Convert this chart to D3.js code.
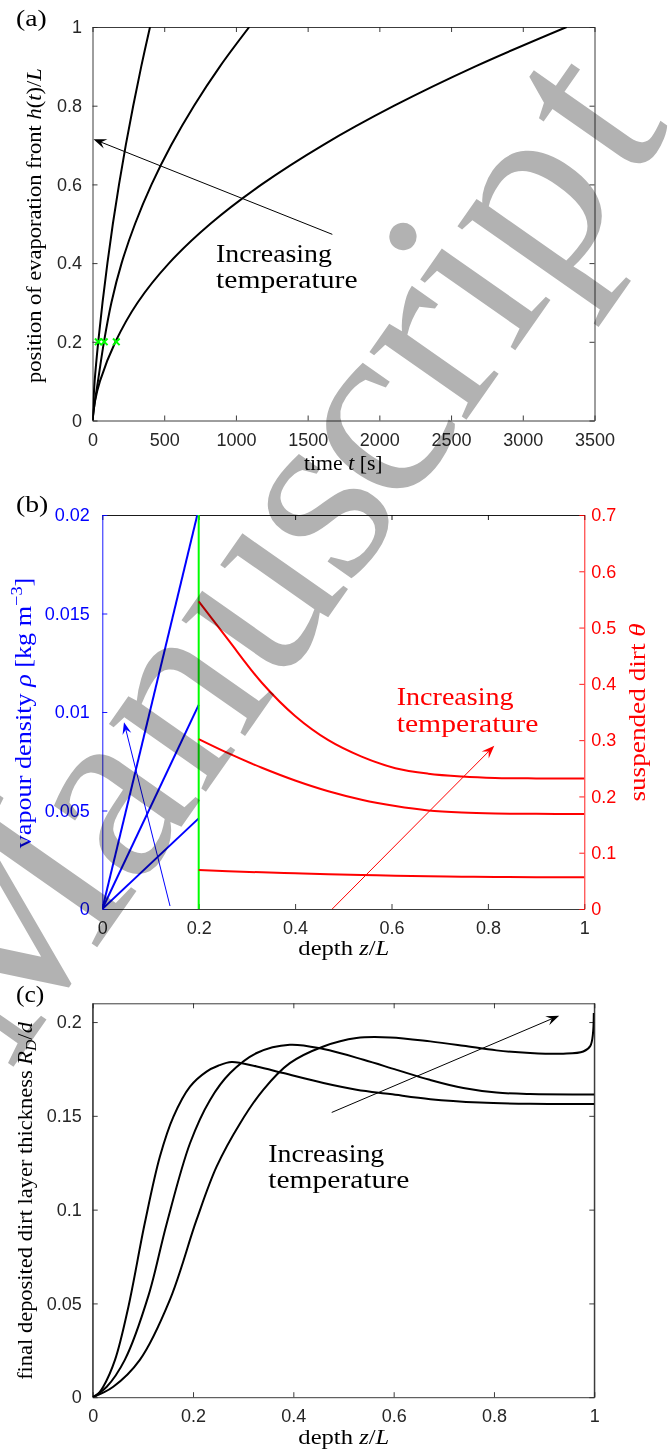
<!DOCTYPE html>
<html><head><meta charset="utf-8">
<script src="https://cdn.jsdelivr.net/npm/d3@7"></script>
<style>body{margin:0;background:#fff}svg{display:block}</style>
</head><body>
<svg id="chart" width="668" height="1452"></svg>
<script>
// ---------------- data ----------------
// panel (a): evaporation front position vs time, sampled at fixed front positions
const frontLevels = [0, 0.05, 0.1, 0.2, 0.3, 0.4, 0.5, 0.6, 0.7, 0.8, 0.9, 1.0];
const timeCurve1 = [0, 7, 15, 40, 70, 104, 142, 185, 232, 284, 340, 401];
const timeCurve2 = [0, 17, 38, 80, 132, 203, 297, 412, 549, 708, 889, 1093];
const timeCurve3 = [0, 18, 52, 160, 315, 534, 822, 1180, 1607, 2104, 2670, 3306];
const markerTimes = [40, 82, 166];
const markerFront = 0.2;
const timeTicks = [0, 500, 1000, 1500, 2000, 2500, 3000, 3500];
const frontTicks = [0, 0.2, 0.4, 0.6, 0.8, 1];
const arrowA = [[1672, 0.473], [7, 0.715]];

// panel (b): vapour density (left axis) and suspended dirt (right axis)
const zBlue = [0, 0.2];
const rhoLine1 = [0, 0.0203];
const rhoLine2 = [0, 0.01036];
const rhoLine3 = [0, 0.0046];
const frontDepth = 0.2;
const zRed = [0.2, 0.261, 0.331, 0.4, 0.469, 0.538, 0.608, 0.676, 0.746, 0.815, 0.9, 1.0];
const theta1 = [0.5466, 0.4785, 0.402, 0.343, 0.300, 0.2708, 0.2502, 0.2405, 0.2355, 0.2329, 0.232, 0.2317];
const theta2 = [0.3018, 0.2768, 0.2509, 0.2283, 0.2092, 0.1942, 0.1830, 0.1752, 0.1714, 0.1697, 0.1691, 0.1689];
const theta3 = [0.0692, 0.067, 0.0651, 0.0633, 0.0616, 0.0603, 0.0591, 0.0582, 0.0573, 0.0568, 0.0565, 0.0562];
const depthTicks = [0, 0.2, 0.4, 0.6, 0.8, 1];
const rhoTicks = [0, 0.005, 0.01, 0.015, 0.02];
const thetaTicks = [0, 0.1, 0.2, 0.3, 0.4, 0.5, 0.6, 0.7];
const arrowBblue = [[0.1405, 0.00015], [0.045, 0.00948]];
const arrowBred = [[0.477, 0], [0.8133, 0.29]];

// panel (c): final deposited dirt layer thickness
const zC1 = [0, 0.008, 0.021, 0.0445, 0.071, 0.104, 0.134, 0.161, 0.194, 0.227, 0.25, 0.277, 0.327, 0.38, 0.46, 0.526, 0.593, 0.673, 0.772, 0.872, 1.0];
const rC1 = [0, 0.001, 0.0056, 0.0199, 0.048, 0.093, 0.1283, 0.1496, 0.1656, 0.1736, 0.1767, 0.1787, 0.1763, 0.1728, 0.1675, 0.1639, 0.1616, 0.1589, 0.1571, 0.1564, 0.1563];
const zC2 = [0, 0.028, 0.064, 0.111, 0.1475, 0.194, 0.234, 0.274, 0.327, 0.393, 0.46, 0.54, 0.606, 0.672, 0.739, 0.805, 0.872, 1.0];
const rC2 = [0, 0.0056, 0.0199, 0.054, 0.0925, 0.1354, 0.1585, 0.1728, 0.1835, 0.1879, 0.1856, 0.1799, 0.1745, 0.1692, 0.1648, 0.1624, 0.1616, 0.1614];
const zC3 = [0, 0.041, 0.094, 0.154, 0.207, 0.247, 0.294, 0.34, 0.393, 0.46, 0.526, 0.593, 0.673, 0.739, 0.805, 0.872, 0.938, 0.978, 0.992, 0.999];
const rC3 = [0, 0.0056, 0.0199, 0.052, 0.0945, 0.1229, 0.1461, 0.1639, 0.1781, 0.187, 0.1915, 0.1918, 0.1897, 0.1874, 0.1849, 0.1835, 0.1831, 0.1843, 0.1872, 0.2048];
const thickTicks = [0, 0.05, 0.1, 0.15, 0.2];
const arrowC = [[0.4765, 0.1518], [0.930, 0.2034]];

// watermark
const wmLetters = ["M", "a", "n", "u", "s", "c", "r", "i", "p", "t"];
const wmAdvance = [0.917, 0.5, 0.556, 0.556, 0.394, 0.444, 0.392, 0.278, 0.556, 0.389];

// ---------------- helpers ----------------
const svg = d3.select("#chart");
svg.append("rect").attr("width", 668).attr("height", 1452).attr("fill", "#fff");
const SERIF = "'Liberation Serif','Times New Roman',serif";
const SANS = "'Liberation Sans',Arial,Helvetica,sans-serif";
const AX = "#262626";

function label(g, o) {
  const t = g.append("text").attr("font-family", SERIF).attr("font-size", o.size)
    .attr("fill", o.fill || "#000").attr("text-anchor", o.anchor || "middle");
  let shift = 0;
  o.parts.forEach(p => {
    const ts = t.append("tspan").text(p.t);
    if (p.it) ts.attr("font-style", "italic");
    const target = p.sub ? 0.22 * o.size : p.sup ? -0.38 * o.size : 0;
    if (target !== shift) { ts.attr("dy", target - shift); shift = target; }
    if (p.sub || p.sup) ts.attr("font-size", o.size * 0.7);
  });
  const w = t.node().getComputedTextLength();
  const s = o.width ? o.width / w : 1;
  t.attr("transform", `translate(${o.x},${o.y}) rotate(${o.rot || 0}) scale(${s},1)`);
  return t;
}

function styleAxis(g, color, showText) {
  g.attr("font-family", SANS).attr("font-size", 18);
  g.select(".domain").attr("stroke", color).attr("stroke-width", 0.9);
  g.selectAll(".tick line").attr("stroke", color).attr("stroke-width", 0.9);
  g.selectAll(".tick text").attr("fill", color);
  if (!showText) g.selectAll(".tick text").remove();
}

function arrow(g, p1, p2, color, len, wid) {
  const [x1, y1] = p1, [x2, y2] = p2;
  const ang = Math.atan2(y2 - y1, x2 - x1);
  const ex = x2 - Math.cos(ang) * len * 0.6, ey = y2 - Math.sin(ang) * len * 0.6;
  g.append("line").attr("x1", x1).attr("y1", y1).attr("x2", ex).attr("y2", ey)
    .attr("stroke", color).attr("stroke-width", 1);
  g.append("path").attr("d", `M0,0L${-len},${wid / 2}L${-0.62 * len},0L${-len},${-wid / 2}Z`)
    .attr("transform", `translate(${x2},${y2}) rotate(${ang * 180 / Math.PI})`)
    .attr("fill", color);
}

function clip(id, x0, y0, x1, y1) {
  svg.append("clipPath").attr("id", id).append("rect")
    .attr("x", x0).attr("y", y0).attr("width", x1 - x0).attr("height", y1 - y0);
}

const fmt = d => String(d);
const smooth = d3.curveCatmullRom.alpha(0.5);

// ---------------- panel (a) ----------------
{
  const x = d3.scaleLinear().domain([0, 3500]).range([92.5, 594.5]);
  const y = d3.scaleLinear().domain([0, 1]).range([420.5, 27]);
  const g = svg.append("g");
  clip("clipA", 92.5, 27, 594.5, 420.5);
  styleAxis(g.append("g").attr("transform", "translate(0,420.5)")
    .call(d3.axisBottom(x).tickValues(timeTicks).tickSizeInner(-5).tickSizeOuter(0).tickPadding(13).tickFormat(d3.format("d"))), AX, true);
  styleAxis(g.append("g").attr("transform", "translate(0,27)")
    .call(d3.axisTop(x).tickValues(timeTicks).tickSizeInner(-5).tickSizeOuter(0)), AX, false);
  styleAxis(g.append("g").attr("transform", "translate(92.5,0)")
    .call(d3.axisLeft(y).tickValues(frontTicks).tickSizeInner(-5).tickSizeOuter(0).tickPadding(10.5).tickFormat(fmt)), AX, true);
  styleAxis(g.append("g").attr("transform", "translate(594.5,0)")
    .call(d3.axisRight(y).tickValues(frontTicks).tickSizeInner(-5).tickSizeOuter(0)), AX, false);

  const line = d3.line().x(d => x(d[0])).y(d => y(d[1])).curve(smooth);
  const lines = g.append("g").attr("clip-path", "url(#clipA)");
  [timeCurve1, timeCurve2, timeCurve3].forEach(tc => {
    lines.append("path").datum(tc.map((t, i) => [t, frontLevels[i]]))
      .attr("d", line).attr("fill", "none").attr("stroke", "#000").attr("stroke-width", 2);
  });
  markerTimes.forEach(t => {
    const cx = x(t), cy = y(markerFront), r = 3.3;
    g.append("path").attr("d", `M${cx - r},${cy - r}L${cx + r},${cy + r}M${cx - r},${cy + r}L${cx + r},${cy - r}`)
      .attr("stroke", "#00ff00").attr("stroke-width", 2);
  });
  arrow(g, [x(arrowA[0][0]), y(arrowA[0][1])], [x(arrowA[1][0]), y(arrowA[1][1])], "#000", 13, 10);
  label(g, { x: 216, y: 262.3, anchor: "start", size: 25.5, width: 116, parts: [{ t: "Increasing" }] });
  label(g, { x: 216, y: 288.3, anchor: "start", size: 25.5, width: 141.7, parts: [{ t: "temperature" }] });
  label(g, { x: 343.3, y: 470, size: 20, width: 78.7, parts: [{ t: "time " }, { t: "t", it: 1 }, { t: " [s]" }] });
  label(g, { x: 41, y: 225.7, rot: -90, size: 20, width: 315,
    parts: [{ t: "position of evaporation front " }, { t: "h", it: 1 }, { t: "(" }, { t: "t", it: 1 }, { t: ")/" }, { t: "L", it: 1 }] });
  label(g, { x: 16, y: 26, anchor: "start", size: 24, width: 30.7, parts: [{ t: "(a)" }] });
}

// ---------------- panel (b) ----------------
{
  const x = d3.scaleLinear().domain([0, 1]).range([102.3, 584.3]);
  const yL = d3.scaleLinear().domain([0, 0.02]).range([909, 515]);
  const yR = d3.scaleLinear().domain([0, 0.7]).range([909, 515]);
  const g = svg.append("g");
  clip("clipB", 102.3, 515, 584.3, 909);
  styleAxis(g.append("g").attr("transform", "translate(0,909)")
    .call(d3.axisBottom(x).tickValues(depthTicks).tickSizeInner(-5).tickSizeOuter(0).tickPadding(12.5).tickFormat(fmt)), AX, true);
  styleAxis(g.append("g").attr("transform", "translate(0,515)")
    .call(d3.axisTop(x).tickValues(depthTicks).tickSizeInner(-5).tickSizeOuter(0)), "#000", false);
  styleAxis(g.append("g").attr("transform", "translate(102.3,0)")
    .call(d3.axisLeft(yL).tickValues(rhoTicks).tickSizeInner(-5).tickSizeOuter(0).tickPadding(12.5).tickFormat(fmt)), "#0000ff", true);
  styleAxis(g.append("g").attr("transform", "translate(584.3,0)")
    .call(d3.axisRight(yR).tickValues(thetaTicks).tickSizeInner(-5).tickSizeOuter(0).tickPadding(7).tickFormat(fmt)), "#ff0000", true);

  const lines = g.append("g").attr("clip-path", "url(#clipB)");
  const lineL = d3.line().x(d => x(d[0])).y(d => yL(d[1]));
  [rhoLine1, rhoLine2, rhoLine3].forEach(r => {
    lines.append("path").datum(zBlue.map((z, i) => [z, r[i]]))
      .attr("d", lineL).attr("fill", "none").attr("stroke", "#0000ff").attr("stroke-width", 2);
  });
  lines.append("path").datum([[frontDepth, 0], [frontDepth, 0.02]])
    .attr("d", lineL).attr("fill", "none").attr("stroke", "#00ff00").attr("stroke-width", 2);
  const lineR = d3.line().x(d => x(d[0])).y(d => yR(d[1])).curve(smooth);
  [theta1, theta2, theta3].forEach(th => {
    lines.append("path").datum(zRed.map((z, i) => [z, th[i]]))
      .attr("d", lineR).attr("fill", "none").attr("stroke", "#ff0000").attr("stroke-width", 2);
  });
  arrow(g, [x(arrowBblue[0][0]), yL(arrowBblue[0][1])], [x(arrowBblue[1][0]), yL(arrowBblue[1][1])], "#0000ff", 12, 9);
  arrow(g, [x(arrowBred[0][0]), yR(arrowBred[0][1])], [x(arrowBred[1][0]), yR(arrowBred[1][1])], "#ff0000", 13, 10);
  label(g, { x: 396.7, y: 705, anchor: "start", size: 25.5, width: 117, fill: "#ff0000", parts: [{ t: "Increasing" }] });
  label(g, { x: 396.7, y: 731.5, anchor: "start", size: 25.5, width: 141.7, fill: "#ff0000", parts: [{ t: "temperature" }] });
  label(g, { x: 343.8, y: 955, size: 20, width: 91, parts: [{ t: "depth " }, { t: "z", it: 1 }, { t: "/" }, { t: "L", it: 1 }] });
  label(g, { x: 31, y: 713, rot: -90, size: 24, width: 270.6, fill: "#0000ff",
    parts: [{ t: "vapour density " }, { t: "ρ", it: 1 }, { t: " [kg m" }, { t: "−3", sup: 1 }, { t: "]" }] });
  label(g, { x: 645, y: 712.5, rot: -90, size: 24, width: 178.4, fill: "#ff0000",
    parts: [{ t: "suspended dirt " }, { t: "θ", it: 1 }] });
  label(g, { x: 16, y: 512, anchor: "start", size: 24, width: 32.3, parts: [{ t: "(b)" }] });
}

// ---------------- panel (c) ----------------
{
  const x = d3.scaleLinear().domain([0, 1]).range([92.7, 594.3]);
  const y = d3.scaleLinear().domain([0, 0.21]).range([1397.2, 1003.3]);
  const g = svg.append("g");
  clip("clipC", 92.7, 1003.3, 594.3, 1397.2);
  styleAxis(g.append("g").attr("transform", "translate(0,1397.2)")
    .call(d3.axisBottom(x).tickValues(depthTicks).tickSizeInner(-5).tickSizeOuter(0).tickPadding(12.5).tickFormat(fmt)), AX, true);
  styleAxis(g.append("g").attr("transform", "translate(0,1003.3)")
    .call(d3.axisTop(x).tickValues(depthTicks).tickSizeInner(-5).tickSizeOuter(0)), AX, false);
  styleAxis(g.append("g").attr("transform", "translate(92.7,0)")
    .call(d3.axisLeft(y).tickValues(thickTicks).tickSizeInner(-5).tickSizeOuter(0).tickPadding(11).tickFormat(fmt)), AX, true);
  styleAxis(g.append("g").attr("transform", "translate(594.3,0)")
    .call(d3.axisRight(y).tickValues(thickTicks).tickSizeInner(-5).tickSizeOuter(0)), AX, false);
  g.append("line").attr("x1", 92.7).attr("x2", 92.7).attr("y1", 1003.3).attr("y2", 1397.2).attr("stroke", AX).attr("stroke-width", 0.9);
  g.append("line").attr("x1", 594.3).attr("x2", 594.3).attr("y1", 1003.3).attr("y2", 1397.2).attr("stroke", AX).attr("stroke-width", 0.9);

  const lines = g.append("g").attr("clip-path", "url(#clipC)");
  const line = d3.line().x(d => x(d[0])).y(d => y(d[1])).curve(smooth);
  [[zC1, rC1], [zC2, rC2], [zC3, rC3]].forEach(([zs, rs]) => {
    lines.append("path").datum(zs.map((z, i) => [z, rs[i]]))
      .attr("d", line).attr("fill", "none").attr("stroke", "#000").attr("stroke-width", 2);
  });
  arrow(g, [x(arrowC[0][0]), y(arrowC[0][1])], [x(arrowC[1][0]), y(arrowC[1][1])], "#000", 13, 10);
  label(g, { x: 268.3, y: 1162.3, anchor: "start", size: 25.5, width: 116, parts: [{ t: "Increasing" }] });
  label(g, { x: 268.3, y: 1187.5, anchor: "start", size: 25.5, width: 141, parts: [{ t: "temperature" }] });
  label(g, { x: 343.8, y: 1444, size: 20, width: 91, parts: [{ t: "depth " }, { t: "z", it: 1 }, { t: "/" }, { t: "L", it: 1 }] });
  label(g, { x: 32, y: 1201, rot: -90, size: 20, width: 358,
    parts: [{ t: "final deposited dirt layer thickness " }, { t: "R", it: 1 }, { t: "D", it: 1, sub: 1 }, { t: "/" }, { t: "d", it: 1 }] });
  label(g, { x: 16, y: 1001.5, anchor: "start", size: 24, width: 28.3, parts: [{ t: "(c)" }] });
}

// ---------------- watermark ----------------
{
  const G = 258, A = 232, angle = -55;
  const wm = svg.append("g").attr("transform", `translate(14,1066) rotate(${angle})`)
    .style("mix-blend-mode", "multiply");
  let pos = 0;
  wmLetters.forEach((ch, i) => {
    wm.append("text").attr("x", (pos + wmAdvance[i] / 2) * A).attr("y", 0)
      .attr("text-anchor", "middle").attr("font-family", SERIF).attr("font-size", G)
      .attr("fill", "#b2b2b2").text(ch);
    pos += wmAdvance[i];
  });
}
</script>
</body></html>
